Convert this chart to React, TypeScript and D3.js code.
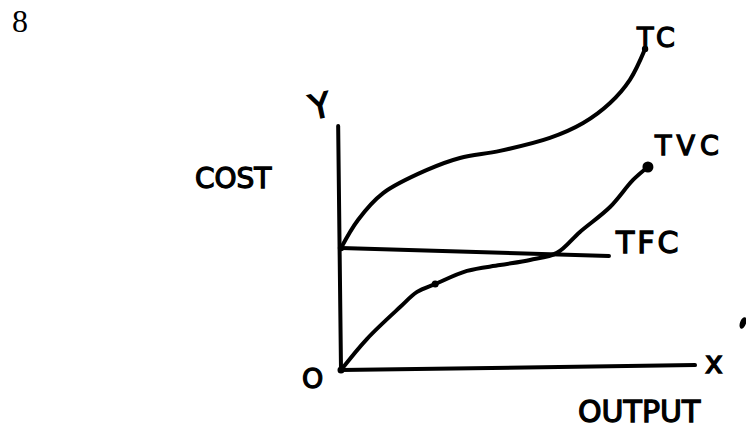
import React from "react";
import * as d3 from "d3";

// Data (output units vs cost units)
const tcOutput = [0, 4.8, 11.9, 24.3, 33.6, 44.9, 59.0, 68.4, 76.0, 81.6, 85.9];
const tcCost = [50, 61.5, 72.5, 82, 86.9, 89.8, 95.1, 101.2, 109.4, 118.9, 131.6];

const tvcOutput = [0, 7.3, 16.7, 21.5, 26.6, 35.6, 44.9, 53.4, 61, 67.5, 76, 82.5, 86.7];
const tvcCost = [0, 12.7, 25.8, 32, 35.2, 40.6, 43, 45.1, 48, 56.6, 66.8, 77.9, 83.2];

const tfcOutput = [0, 75.7];
const tfcCost = [50, 46.7];

const yAxisOutput = [0, -0.8];
const yAxisCost = [0, 100];
const xAxisOutput = [0, 100];
const xAxisCost = [0, 2];

const W = 746;
const H = 429;

export default function App() {
  const x = d3.scaleLinear().domain([0, 100]).range([341, 695]);
  const y = d3.scaleLinear().domain([0, 100]).range([370, 126]);

  const zip = (a: number[], b: number[]) => a.map((v, i) => [v, b[i]] as [number, number]);
  const curve = d3
    .line<[number, number]>()
    .x((d) => x(d[0]))
    .y((d) => y(d[1]))
    .curve(d3.curveCatmullRom.alpha(0.5));
  const straight = d3
    .line<[number, number]>()
    .x((d) => x(d[0]))
    .y((d) => y(d[1]));

  const tc = zip(tcOutput, tcCost);
  const tvc = zip(tvcOutput, tvcCost);
  const tcEnd = tc[tc.length - 1];
  const tvcEnd = tvc[tvc.length - 1];
  const tvcBlip = tvc[4];

  const hand: React.CSSProperties = {
    fontFamily: "'DejaVu Sans', sans-serif",
  };
  const textProps = {
    fill: "#000",
    stroke: "#000",
    strokeWidth: 1.3,
    style: hand,
  };
  const sw = 4;

  return (
    <svg
      width={W}
      height={H}
      style={{ position: "absolute", left: 0, top: 0, background: "#fff" }}
    >
      <rect x={0} y={0} width={W} height={H} fill="#fff" />
      <text x={12} y={32} fontSize={32} fontFamily="'Liberation Serif', serif" fill="#000">
        8
      </text>

      {/* axes */}
      <path d={straight(zip(yAxisOutput, yAxisCost)) || ""} stroke="#000" strokeWidth={sw} fill="none" strokeLinecap="round" />
      <path d={straight(zip(xAxisOutput, xAxisCost)) || ""} stroke="#000" strokeWidth={sw} fill="none" strokeLinecap="round" />

      {/* TFC */}
      <path d={straight(zip(tfcOutput, tfcCost)) || ""} stroke="#000" strokeWidth={sw} fill="none" strokeLinecap="round" />
      {/* TC */}
      <path d={curve(tc) || ""} stroke="#000" strokeWidth={sw} fill="none" strokeLinecap="round" />
      {/* TVC */}
      <path d={curve(tvc) || ""} stroke="#000" strokeWidth={sw} fill="none" strokeLinecap="round" />

      <circle cx={x(tcEnd[0])} cy={y(tcEnd[1])} r={3.2} fill="#000" />
      <circle cx={x(tvcEnd[0])} cy={y(tvcEnd[1])} r={5.5} fill="#000" />
      <circle cx={x(tvcBlip[0])} cy={y(tvcBlip[1])} r={3.5} fill="#000" />
      <circle cx={x(0)} cy={y(50)} r={3.2} fill="#000" />
      <circle cx={x(0)} cy={y(0)} r={3.5} fill="#000" />

      {/* labels */}
      <text x={195} y={188} fontSize={28} {...textProps}>COST</text>
      <text x={309} y={118} fontSize={34} {...textProps} transform="rotate(-12 319 104)">Y</text>
      <text x={637} y={47} fontSize={27} letterSpacing={4} {...textProps}>TC</text>
      <text x={655} y={155} fontSize={27} letterSpacing={5} {...textProps}>TVC</text>
      <text x={616} y={253} fontSize={30} letterSpacing={3} {...textProps}>TFC</text>
      <text x={302} y={388} fontSize={27} {...textProps}>O</text>
      <text x={705} y={373} fontSize={30} {...textProps}>x</text>
      <text x={578} y={422} fontSize={30} {...textProps}>OUTPUT</text>

      {/* stray pen mark at the right edge */}
      <ellipse cx={743} cy={323} rx={3} ry={6} fill="#000" transform="rotate(20 743 323)" />
    </svg>
  );
}
